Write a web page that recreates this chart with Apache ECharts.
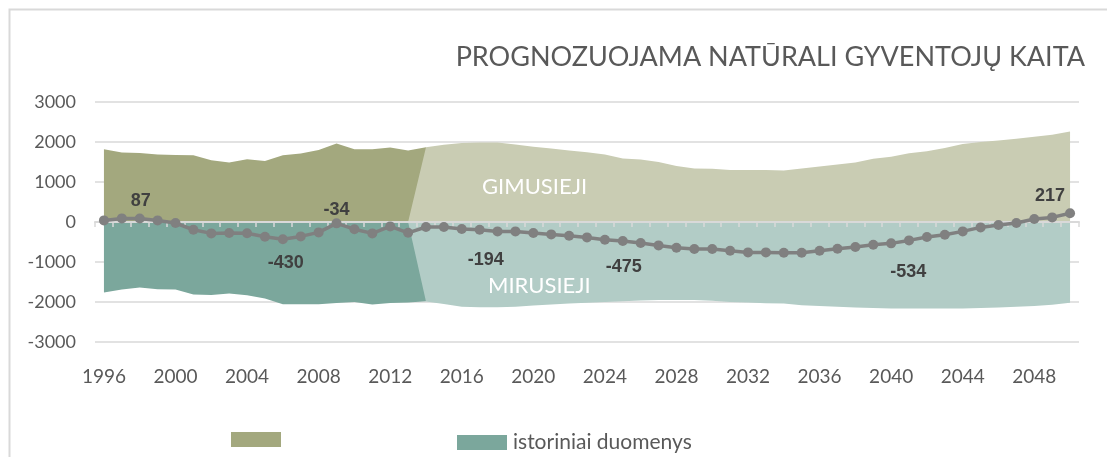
<!DOCTYPE html>
<html>
<head>
<meta charset="utf-8">
<script src="https://cdn.jsdelivr.net/npm/echarts@6/dist/echarts.min.js"></script>
<style>
html,body{margin:0;padding:0;background:#fff;}
#c{width:1107px;height:457px;}
</style>
</head>
<body>
<div id="c"></div>
<script>
// ---- data ----
const years = ['1996','1997','1998','1999','2000','2001','2002','2003','2004','2005','2006','2007','2008','2009','2010','2011','2012','2013','2014','2015','2016','2017','2018','2019','2020','2021','2022','2023','2024','2025','2026','2027','2028','2029','2030','2031','2032','2033','2034','2035','2036','2037','2038','2039','2040','2041','2042','2043','2044','2045','2046','2047','2048','2049','2050'];
const xTickLabels = ['1996','2000','2004','2008','2012','2016','2020','2024','2028','2032','2036','2040','2044','2048'];
const yTickLabels = [-3000,-2000,-1000,0,1000,2000,3000];

// historical 1996-2014
const birthsHistorical = [1817,1735,1725,1685,1675,1667,1543,1485,1567,1525,1667,1710,1800,1960,1817,1817,1860,1785,1867];
const deathsHistorical = [-1765,-1690,-1640,-1683,-1690,-1815,-1825,-1790,-1833,-1915,-2058,-2058,-2058,-2025,-2000,-2065,-2025,-2015,-1983];
// forecast 2013-2050
const birthsForecast = [0,1870,1930,1975,1990,1985,1940,1880,1840,1790,1745,1690,1590,1560,1500,1400,1340,1330,1300,1300,1300,1290,1340,1390,1440,1490,1580,1630,1720,1770,1850,1950,2000,2040,2080,2130,2180,2260];
const deathsForecast = [0,-1990,-2050,-2120,-2130,-2130,-2120,-2090,-2060,-2040,-2020,-2000,-1980,-1960,-1950,-1950,-1950,-1970,-2000,-2010,-2030,-2040,-2080,-2100,-2120,-2140,-2150,-2160,-2160,-2160,-2165,-2160,-2150,-2140,-2120,-2100,-2070,-2020];
// natural change 1996-2050
const naturalChange = [40,90,87,40,-25,-195,-285,-275,-280,-370,-430,-360,-260,-34,-180,-285,-110,-270,-125,-125,-177,-194,-235,-235,-277,-310,-344,-385,-444,-475,-527,-585,-644,-677,-677,-719,-760,-760,-768,-768,-719,-669,-627,-569,-534,-460,-377,-319,-235,-135,-77,-27,73,115,217];
const labeledYears = ['1998','2006','2009','2017','2025','2040','2050'];

// ---- build ----
const histStart = years.indexOf('1996');
const fcStart = years.indexOf('2013');
function pad(arr, start){
  const out = years.map(()=>null);
  arr.forEach((v,i)=>{ out[start+i] = v; });
  return out;
}
const labelStyle = {
  '1998': {position:'top', offset:[1,2]},
  '2006': {position:'bottom', offset:[3,5]},
  '2009': {position:'top', offset:[0,6]},
  '2017': {position:'bottom', offset:[6,11]},
  '2025': {position:'bottom', offset:[1,7]},
  '2040': {position:'bottom', offset:[17,10]},
  '2050': {position:'top', offset:[-20,2]}
};
const netData = naturalChange.map((v,i)=>{
  const y = years[i];
  if (labeledYears.indexOf(y) >= 0) {
    return {value:v, label:Object.assign({show:true}, labelStyle[y])};
  }
  return v;
});

const FONT = 'Lato, "Open Sans", sans-serif';
const chart = echarts.init(document.getElementById('c'), null, {renderer:'canvas'});

function areaSeries(name, data, color, z){
  return {
    name:name, type:'line', data:data, xAxisIndex:0, yAxisIndex:0,
    showSymbol:false, symbol:'none', z:z,
    lineStyle:{width:0, opacity:0},
    itemStyle:{color:color},
    areaStyle:{color:color, opacity:1},
    emphasis:{disabled:true},
    silent:true
  };
}

chart.setOption({
  animation:false,
  title:{
    text:'PROGNOZUOJAMA NATŪRALI GYVENTOJŲ KAITA',
    right:22, top:44, padding:0,
    textStyle:{fontFamily:FONT, fontSize:27, fontWeight:'normal', color:'#595959'}
  },
  grid:{left:95, right:28, top:102, bottom:115, containLabel:false},
  legend:[
    {data:['gimusieji istoriniai'], left:231, top:432, itemWidth:50, itemHeight:15, icon:'rect',
     formatter:function(){return '';}, selectedMode:false, padding:0,
     textStyle:{fontFamily:FONT, fontSize:21, color:'#595959'}},
    {data:['istoriniai duomenys'], left:457, top:432, itemWidth:50, itemHeight:15, icon:'rect',
     selectedMode:false, padding:0, itemGap:5,
     textStyle:{fontFamily:FONT, fontSize:21, color:'#595959', padding:[1,0,0,1]}}
  ],
  xAxis:[
    {type:'category', data:years, boundaryGap:true, position:'bottom',
     axisLine:{show:false, onZero:false}, axisTick:{show:false},
     axisLabel:{interval:function(i,v){return xTickLabels.indexOf(v)>=0;}, margin:25,
       fontFamily:FONT, fontSize:19, color:'#595959'},
     splitLine:{show:false}},
    {type:'category', data:years, boundaryGap:true, position:'bottom', z:3,
     axisLine:{show:true, onZero:true, onZeroAxisIndex:0, lineStyle:{color:'#d9d9d9', width:2}},
     axisTick:{show:true, interval:0, length:5, lineStyle:{color:'#d9d9d9', width:1.5}},
     axisLabel:{show:false}, splitLine:{show:false}}
  ],
  yAxis:{
    type:'value', min:yTickLabels[0], max:yTickLabels[yTickLabels.length-1], interval:1000,
    axisLine:{show:false}, axisTick:{show:false},
    axisLabel:{fontFamily:FONT, fontSize:18, color:'#595959', margin:19,
      formatter:function(v){return String(v);}},
    splitLine:{lineStyle:{color:'#d9d9d9', width:1.5}}
  },
  series:[
    areaSeries('gimusieji istoriniai', pad(birthsHistorical, histStart), '#A3A87E', 2),
    areaSeries('istoriniai duomenys', pad(deathsHistorical, histStart), '#7BA79C', 2),
    areaSeries('gimusieji prognozė', pad(birthsForecast, fcStart), '#C9CCB3', 2),
    areaSeries('mirusieji prognozė', pad(deathsForecast, fcStart), '#B2CCC6', 2),
    {
      name:'natūrali kaita', type:'line', data:netData, z:5,
      symbol:'circle', symbolSize:10, showSymbol:true,
      itemStyle:{color:'#808080'},
      lineStyle:{color:'#808080', width:3.5},
      label:{show:false, fontFamily:'"Liberation Sans", Arial, sans-serif', fontSize:18,
        fontWeight:'bold', color:'#404040'},
      emphasis:{disabled:true}, silent:true
    }
  ],
  graphic:[
    {type:'rect', silent:true, z:0,
     shape:{x:9.5, y:9.5, width:1400, height:800},
     style:{fill:'none', stroke:'#d9d9d9', lineWidth:2}},
    {type:'text', left:482, top:176, silent:true, z:10,
     style:{text:'GIMUSIEJI', fill:'#ffffff', font:'22px ' + FONT}},
    {type:'text', left:488, top:275, silent:true, z:10,
     style:{text:'MIRUSIEJI', fill:'#ffffff', font:'22px ' + FONT}}
  ]
});
</script>
</body>
</html>
